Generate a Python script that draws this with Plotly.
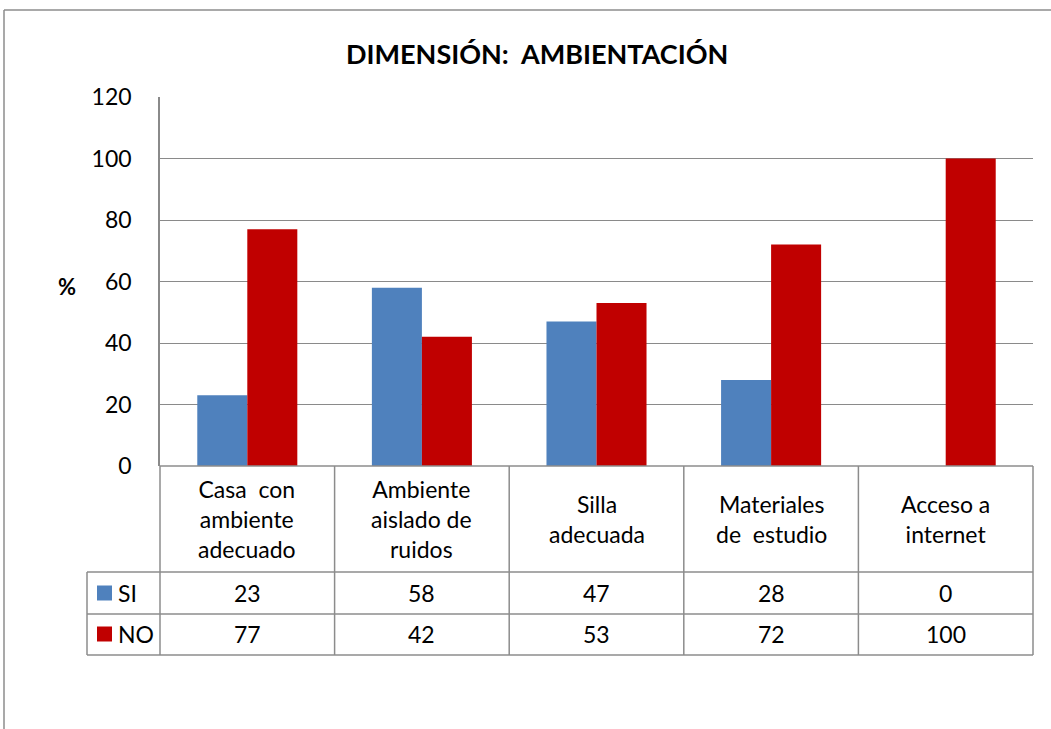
import plotly.graph_objects as go

categories = ["Casa  con<br>ambiente<br>adecuado", "Ambiente<br>aislado de<br>ruidos",
              "Silla<br>adecuada", "Materiales<br>de  estudio", "Acceso a<br>internet"]
series_names = ["SI", "NO"]
si_values = [23, 58, 47, 28, 0]
no_values = [77, 42, 53, 72, 100]
y_ticks = [0, 20, 40, 60, 80, 100, 120]
title_text = "DIMENSIÓN:  AMBIENTACIÓN"
y_label = "%"

colors = ["#4F81BD", "#C00000"]
FONT = "Lato"
FS = 23
W, H = 1051, 729
L, R, T, B = 160, 1033, 97, 466   # plot area pixels
n = len(categories)

def px_x(px):
    return (px - L) / (R - L)

def px_y(py):
    return (B - py) / (B - T)

fig = go.Figure()
for name, vals, col in zip(series_names, [si_values, no_values], colors):
    fig.add_trace(go.Bar(x=list(range(n)), y=vals, name=name, marker_color=col,
                         marker_line_width=0, showlegend=False))

grid = "#8a8a8a"
tbl = "#8c8c8c"
shapes = []
# outer chart border
shapes.append(dict(type="line", xref="paper", yref="paper", x0=px_x(4), x1=px_x(1052),
                   y0=px_y(10), y1=px_y(10), line=dict(color="#8c8c8c", width=1.5)))
shapes.append(dict(type="line", xref="paper", yref="paper", x0=px_x(4), x1=px_x(4),
                   y0=px_y(10), y1=px_y(735), line=dict(color="#8c8c8c", width=1.5)))

row_header_bottom, row_si_bottom, row_no_bottom = 572, 614, 655
legend_left = 87
# horizontal table lines
shapes.append(dict(type="line", xref="paper", yref="paper", x0=0, x1=1, y0=0, y1=0,
                   line=dict(color=tbl, width=1.5)))
for yy in [row_header_bottom, row_si_bottom, row_no_bottom]:
    shapes.append(dict(type="line", xref="paper", yref="paper", x0=px_x(legend_left), x1=1,
                       y0=px_y(yy), y1=px_y(yy), line=dict(color=tbl, width=1.5)))
# vertical table lines
shapes.append(dict(type="line", xref="paper", yref="paper", x0=px_x(legend_left), x1=px_x(legend_left),
                   y0=px_y(row_header_bottom), y1=px_y(row_no_bottom), line=dict(color=tbl, width=1.5)))
for i in range(n + 1):
    xx = i / n
    shapes.append(dict(type="line", xref="paper", yref="paper", x0=xx, x1=xx,
                       y0=0, y1=px_y(row_no_bottom), line=dict(color=tbl, width=1.5)))

annotations = []
# title
annotations.append(dict(text="<b>" + title_text + "</b>", xref="paper", yref="paper",
                        x=px_x(537), y=px_y(53), showarrow=False, xanchor="center", yanchor="middle",
                        font=dict(family=FONT, size=27, color="black")))
annotations.append(dict(text="<b>" + y_label + "</b>", xref="paper", yref="paper",
                        x=px_x(67), y=px_y(286), showarrow=False, xanchor="center", yanchor="middle",
                        font=dict(family=FONT, size=22, color="black")))
# category headers
for i, c in enumerate(categories):
    annotations.append(dict(text=c, xref="x", yref="paper", x=i, y=px_y(519),
                            showarrow=False, xanchor="center", yanchor="middle",
                            font=dict(family=FONT, size=FS, color="black")))
# data rows
row_centers = [593, 634]
for name, vals, col, yc in zip(series_names, [si_values, no_values], colors, row_centers):
    shapes.append(dict(type="rect", xref="paper", yref="paper", x0=px_x(97), x1=px_x(112),
                       y0=px_y(yc - 7.5), y1=px_y(yc + 7.5), fillcolor=col, line=dict(width=0)))
    annotations.append(dict(text=name, xref="paper", yref="paper", x=px_x(116), y=px_y(yc),
                            showarrow=False, xanchor="left", yanchor="middle",
                            font=dict(family=FONT, size=FS, color="black")))
    for i, v in enumerate(vals):
        annotations.append(dict(text=str(v), xref="x", yref="paper", x=i, y=px_y(yc),
                                showarrow=False, xanchor="center", yanchor="middle",
                                font=dict(family=FONT, size=FS, color="black")))

fig.update_layout(
    width=W, height=H,
    margin=dict(l=L, r=W - R, t=T, b=H - B, pad=0),
    paper_bgcolor="white", plot_bgcolor="white",
    barmode="group", bargap=0.427, bargroupgap=0,
    shapes=shapes, annotations=annotations,
    xaxis=dict(range=[-0.5, n - 0.5], showticklabels=False, showgrid=False, zeroline=False,
               showline=False, ticks="", fixedrange=True),
    yaxis=dict(range=[0, 120], tickvals=y_ticks, showgrid=True, gridcolor=grid, gridwidth=1,
               zeroline=False, showline=True, linecolor=grid, linewidth=1.5,
               ticks="", ticklabelstandoff=22,
               tickfont=dict(family=FONT, size=FS, color="black"), fixedrange=True),
    font=dict(family=FONT),
)

fig.write_html("out.html", post_script="document.body.style.margin='0';document.body.style.padding='0';",
               config={"displayModeBar": False})
